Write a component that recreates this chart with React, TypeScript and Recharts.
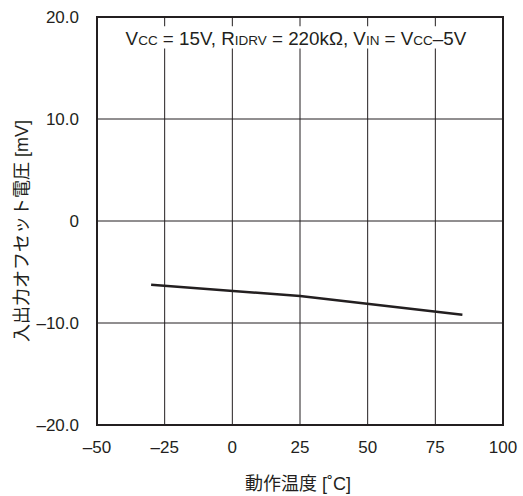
import { CartesianGrid, Line, LineChart, ReferenceArea, XAxis, YAxis } from "recharts";

const temps = [-30, 25, 85];
const offsets = [-6.25, -7.35, -9.2];
const xTicks = [-50, -25, 0, 25, 50, 75, 100];
const yTicks = [-20, -10, 0, 10, 20];

const data = temps.map((t, i) => ({ temp: t, offset: offsets[i] }));

const FONT = "'Liberation Sans', Arial, 'Noto Sans CJK JP', sans-serif";
const INK = "#231f20";

const dash = (v: number) => (v < 0 ? `–${Math.abs(v)}` : `${v}`);
const yFmt = (v: number) => (v === 0 ? "0" : v < 0 ? `–${Math.abs(v).toFixed(1)}` : v.toFixed(1));

function Condition(props: any) {
  const vb = props.viewBox;
  const big = 18.8;
  const small = 13.5;
  return (
    <text
      x={vb.x + vb.width / 2}
      y={vb.y + vb.height / 2 + 8}
      textAnchor="middle"
      fontFamily={FONT}
      fill={INK}
      fontSize={big}
    >
      <tspan>V</tspan>
      <tspan fontSize={small}>CC</tspan>
      <tspan> = 15V, R</tspan>
      <tspan fontSize={small}>IDRV</tspan>
      <tspan> = 220kΩ, V</tspan>
      <tspan fontSize={small}>IN</tspan>
      <tspan> = V</tspan>
      <tspan fontSize={small}>CC</tspan>
      <tspan>–5V</tspan>
    </text>
  );
}

function YTitle(props: any) {
  const x = 22;
  const y = 231;
  return (
    <text
      x={x}
      y={y}
      transform={`rotate(-90, ${x}, ${y})`}
      textAnchor="middle"
      dominantBaseline="central"
      fontFamily={FONT}
      fontSize={18}
      fill={INK}
    >
      入出力オフセット電圧 [mV]
    </text>
  );
}

function XTitle(props: any) {
  return (
    <text x={298} y={490} textAnchor="middle" fontFamily={FONT} fontSize={18} fill={INK}>
      動作温度 [˚C]
    </text>
  );
}

export default function App() {
  return (
    <div style={{ position: "absolute", left: 0, top: 0, background: "#fff" }}>
      <LineChart
        width={523}
        height={496}
        data={data}
        margin={{ top: 17, right: 20, bottom: 0, left: 0 }}
      >
        <CartesianGrid stroke={INK} strokeWidth={1} />
        <XAxis
          dataKey="temp"
          type="number"
          domain={[-50, 100]}
          ticks={xTicks}
          tickFormatter={dash}
          tick={{ fontSize: 17, fill: INK, fontFamily: FONT }}
          tickLine={false}
          axisLine={false}
          tickMargin={10}
          interval={0}
          height={71}
          label={<XTitle />}
        />
        <YAxis
          type="number"
          domain={[-20, 20]}
          ticks={yTicks}
          tickFormatter={yFmt}
          tick={{ fontSize: 17, fill: INK, fontFamily: FONT }}
          tickLine={false}
          axisLine={false}
          tickMargin={12}
          width={97}
          interval={0}
          label={<YTitle />}
        />
        <ReferenceArea
          x1={-41}
          x2={88}
          y1={16.9}
          y2={19.1}
          fill="#fff"
          fillOpacity={1}
          stroke="none"
          label={<Condition />}
        />
        <ReferenceArea
          x1={-50}
          x2={100}
          y1={-20}
          y2={20}
          fill="none"
          stroke={INK}
          strokeWidth={2}
        />
        <Line
          dataKey="offset"
          stroke={INK}
          strokeWidth={2.5}
          dot={false}
          isAnimationActive={false}
        />
      </LineChart>
    </div>
  );
}
